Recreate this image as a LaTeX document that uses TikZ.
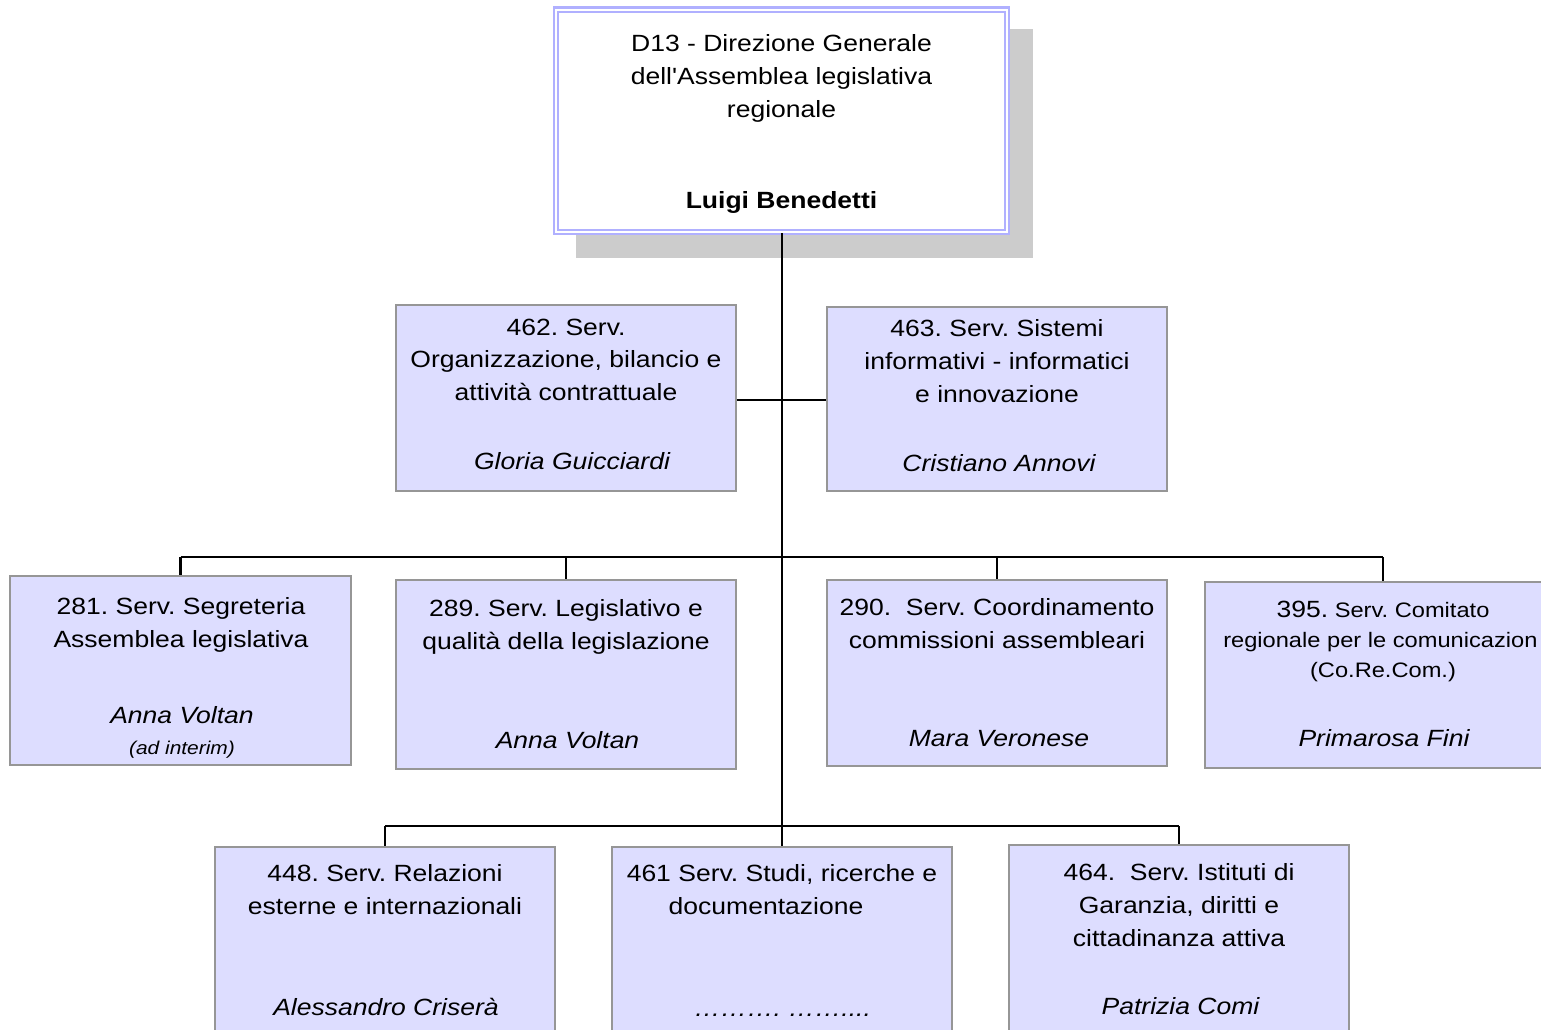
\documentclass[tikz,border=0pt]{standalone}
\usepackage{fontspec}
\setmainfont{Liberation Sans}[FakeStretch=1.13, Ligatures=TeXOff]
\usetikzlibrary{positioning}
\frenchspacing

\definecolor{unitfill}{RGB}{221,221,255}
\definecolor{unitline}{RGB}{150,150,150}
\definecolor{dirframe}{RGB}{176,176,255}
\definecolor{dirshadow}{RGB}{204,204,204}

\begin{document}
\begin{tikzpicture}[
    x=0.75pt, y=-0.75pt,
    unit/.style={rectangle, draw=unitline, line width=1.4pt, fill=unitfill, inner sep=0pt, minimum width=255pt},
    title/.style={anchor=north, align=center, inner sep=0pt, font=\fontsize{17.6}{24.5}\selectfont},
    head/.style={anchor=base, inner sep=0pt, font=\fontsize{17.6}{24.5}\selectfont\itshape},
    link/.style={line width=1.6pt, black}
]
    \useasboundingbox (0,0) rectangle (1541,1030);

    % --- Direzione Generale ---
    \fill[dirshadow] (576,29) rectangle (1033,258);
    \node[rectangle, draw=dirframe, double=white, double distance=1.2pt, line width=2pt,
          fill=white, minimum width=338.25pt, minimum height=166.7pt] (dg) at (781.5,120.9) {};
    \node[title] (dgtitle) at (781.5,34.5) {D13 - Direzione Generale\\dell'Assemblea legislativa\\regionale};
    \node[head, font=\fontsize{17.6}{24.5}\selectfont\bfseries] (dgname) at (781.5,208.5) {Luigi Benedetti};

    % --- Staff ---
    \node[unit, minimum height=139.5pt] (s462) at (566,398) {};
    \node[unit, minimum height=138pt] (s463) at (997,399) {};

    \node[title] (t462) at (566,318.5) {462. Serv.\\Organizzazione, bilancio e\\attività contrattuale};
    \node[head] (n462) at (572,469.5) {Gloria Guicciardi};
    \node[title] (t463) at (997,319.5) {463. Serv. Sistemi\\informativi - informatici\\e innovazione};
    \node[head] (n463) at (999,471.5) {Cristiano Annovi};

    % --- First row ---
    \node[unit, minimum width=255.75pt, minimum height=141.75pt] (s281) at (180.5,670.5) {};
    \node[unit, minimum height=141.75pt] (s289) at (566,674.5) {};
    \node[unit, minimum height=139.5pt] (s290) at (997,673) {};
    \node[unit, minimum width=267pt, minimum height=139.5pt] (s395) at (1383,675) {};

    \node[title] (t281) at (181,597.5) {281. Serv. Segreteria\\Assemblea legislativa};
    \node[head] (n281) at (182,723.5) {Anna Voltan};
    \node[head, font=\fontsize{13.9}{16}\selectfont\itshape] (i281) at (182,754) {(ad interim)};
    \node[title] (t289) at (566,599.5) {289. Serv. Legislativo e\\qualità della legislazione};
    \node[head] (n289) at (567.5,748.5) {Anna Voltan};
    \node[title] (t290) at (997,598.5) {290.\ \ Serv. Coordinamento\\commissioni assembleari};
    \node[head] (n290) at (999,746.5) {Mara Veronese};
    \node[title, font=\fontsize{15.7}{22.5}\selectfont] (t395) at (1383,601)
        {{\fontsize{17.6}{24.5}\selectfont 395.} Serv. Comitato\\regionale per le comunicazion\phantom{i}\\(Co.Re.Com.)};
    \node[head] (n395) at (1384,746.5) {Primarosa Fini};

    % --- Second row ---
    \node[unit, minimum height=148.5pt] (s448) at (385,946) {};
    \node[unit, minimum height=148.5pt] (s461) at (782,946) {};
    \node[unit, minimum height=150pt] (s464) at (1179,945) {};

    \node[title] (t448) at (385,864.5) {448. Serv. Relazioni\\esterne e internazionali};
    \node[head] (n448) at (386,1015.5) {Alessandro Criserà};
    \node[title] (t461) at (782,864.5) {461 Serv. Studi, ricerche e\\documentazione\kern24pt};
    \node[head] (n461) at (782.5,1016) {………. ……....};
    \node[title] (t464) at (1179,863.5) {464.\ \ Serv. Istituti di\\Garanzia, diritti e\\cittadinanza attiva};
    \node[head] (n464) at (1180.5,1014.5) {Patrizia Comi};

    % --- Connectors ---
    \coordinate (busA) at (782,400);
    \coordinate (busB) at (782,557);
    \coordinate (busC) at (782,826);

    \draw[link] (busA |- dg.south) -- (busC);
    \draw[link] (s462.east |- busA) -- (s463.west |- busA);

    \draw[link] (s281.north |- busB) -- (s395.north |- busB);
    \foreach \u in {s281,s289,s290,s395}
        \draw[link] (\u.north |- busB) -- (\u.north);

    \draw[link] (s448.north |- busC) -- (s464.north |- busC);
    \foreach \u in {s448,s461,s464}
        \draw[link] (\u.north |- busC) -- (\u.north);

\end{tikzpicture}
\end{document}
